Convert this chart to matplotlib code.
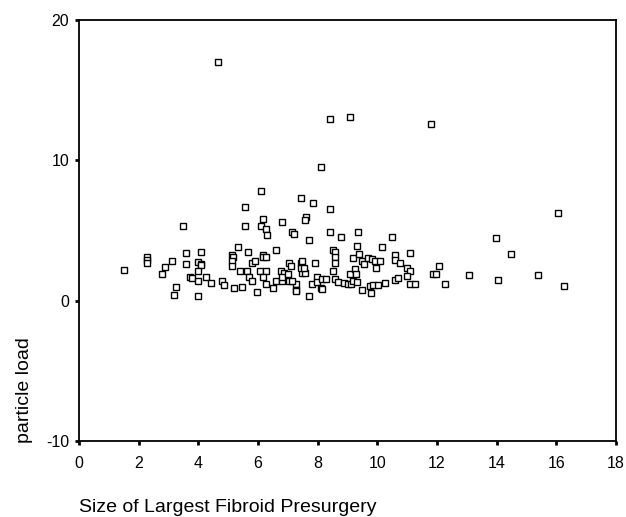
import numpy as np
import matplotlib
matplotlib.use("Agg")
import matplotlib.pyplot as plt

plt.rcParams['font.family'] = ['Liberation Sans', 'DejaVu Sans']
plt.rcParams['axes.unicode_minus'] = False

# fibroid size (x) and particle load (y)
size_upper = [4.65, 8.42, 9.07, 11.8, 8.1, 6.1, 5.58, 7.43, 7.86, 8.4, 16.07, 7.6, 7.57,
              6.18, 6.8, 5.58, 3.5, 6.1, 6.28, 6.29, 7.15, 7.22, 7.72, 8.4, 8.78, 9.37,
              10.49, 13.98, 14.48]
load_upper = [17.0, 12.95, 13.1, 12.6, 9.55, 7.8, 6.7, 7.35, 7.0, 6.55, 6.26, 5.94, 5.77,
              5.85, 5.6, 5.35, 5.3, 5.3, 5.1, 4.7, 4.87, 4.75, 4.35, 4.92, 4.51, 4.92,
              4.51, 4.47, 3.35]

size_band = [1.5, 2.28, 2.28, 2.28, 3.11, 2.9, 2.8, 3.59, 3.59, 3.26, 3.2, 3.72, 3.8,
             4.1, 4.0, 4.08, 4.1, 4.0, 4.0, 4.27, 4.42, 4.0, 4.8, 4.88, 5.2, 5.48,
             5.32, 5.12, 5.18, 5.12, 5.12, 5.67, 5.8, 5.89, 5.4, 5.62, 5.71, 5.8, 5.96,
             6.62, 6.18, 6.18, 6.27, 7.04, 7.12, 7.43, 7.48, 7.91, 8.5, 8.6, 8.6, 8.6,
             9.33, 9.2, 9.39, 9.48, 9.57, 9.7, 9.81, 9.92, 10.09, 10.17, 10.59, 10.59,
             10.76, 11.1, 9.97, 11.0, 11.1, 11.0, 6.08, 6.27, 6.16, 6.27, 6.6, 6.8,
             6.49, 6.77, 6.88, 6.82, 7.02, 7.04, 7.29, 7.29, 7.48, 7.58, 7.43, 7.54,
             7.8, 7.71, 7.98, 7.98, 8.15, 8.28, 8.13, 8.52, 8.6, 8.7, 8.87, 9.03, 9.13,
             9.09, 9.25, 9.28, 9.2, 9.31, 9.48, 9.76, 9.79, 9.87, 10.01, 10.25, 10.59,
             10.68, 11.09, 11.28, 11.86, 11.97, 12.06, 12.26, 13.08, 14.05, 15.4, 16.25,
             7.15, 7.27, 8.15]
load_band = [2.2, 3.09, 2.9, 2.7, 2.8, 2.4, 1.9, 3.37, 2.6, 1.0, 0.4, 1.71, 1.62,
             3.49, 2.78, 2.61, 2.54, 2.14, 1.43, 1.71, 1.24, 0.31, 1.38, 1.12, 0.88, 0.98,
             3.8, 3.26, 3.09, 2.85, 2.47, 3.49, 2.69, 2.85, 2.09, 2.09, 1.71, 1.38, 0.59,
             3.64, 3.28, 3.09, 3.09, 2.69, 2.45, 2.69, 2.8, 2.69, 3.64, 3.45, 3.09, 2.69,
             3.92, 3.04, 3.33, 2.85, 2.61, 3.04, 2.97, 2.85, 2.8, 3.8, 3.28, 2.9,
             2.69, 3.37, 2.33, 2.33, 2.09, 1.78, 2.09, 2.09, 1.66, 1.19, 1.38, 1.38,
             0.9, 2.09, 1.95, 1.66, 1.9, 1.43, 1.19, 0.76, 1.95, 1.95, 2.33, 2.33,
             1.19, 0.36, 1.66, 1.31, 1.55, 1.55, 0.88, 2.09, 1.55, 1.31, 1.24, 1.19, 1.2,
             1.9, 2.26, 1.9, 1.43, 1.31, 0.76, 1.07, 0.52, 1.14, 1.14, 1.24, 1.48,
             1.59, 1.19, 1.19, 1.9, 1.9, 2.5, 1.2, 1.8, 1.5, 1.85, 1.05,
             1.4, 0.7, 0.85]

x_ticks = [0, 2, 4, 6, 8, 10, 12, 14, 16, 18]
y_ticks = [-10, 0, 10, 20]

x = np.array(size_upper + size_band)
y = np.array(load_upper + load_band)

fig = plt.figure(figsize=(6.26, 5.17), dpi=100)
ax = fig.add_axes([0.126, 0.147, 0.858, 0.814])

ax.plot(x, y, linestyle='none', marker='s', markersize=4.6,
        markerfacecolor='white', markeredgecolor='black', markeredgewidth=1.0)

ax.set_xlim(0, 18)
ax.set_ylim(-10, 20)
ax.set_xticks(x_ticks)
ax.set_yticks(y_ticks)
ax.tick_params(direction='out', length=3, width=2, labelsize=11.5)
ax.tick_params(axis='x', pad=8)
ax.tick_params(axis='y', pad=4)

for s in ax.spines.values():
    s.set_linewidth(1.3)

ax.set_ylabel('particle load', fontsize=14)
ax.yaxis.set_label_coords(-0.085, 0.121)
fig.text(0.126, 0.002, 'Size of Largest Fibroid Presurgery', fontsize=14, ha='left', va='bottom')

fig.savefig('out.png', dpi=100)
